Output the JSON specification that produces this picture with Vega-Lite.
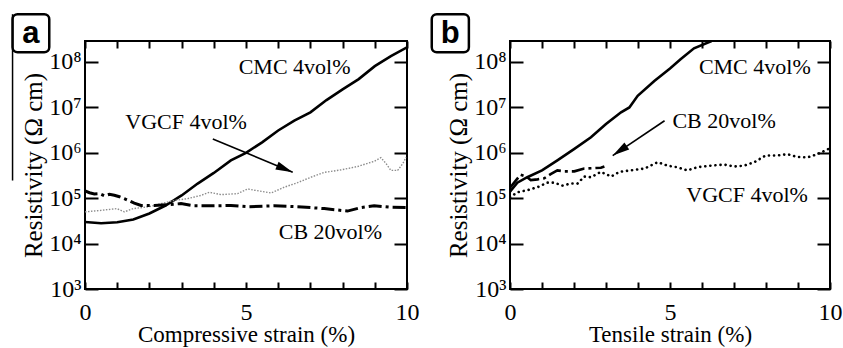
{
  "$schema": "https://vega.github.io/schema/vega-lite/v6.json",
  "padding": {"left": 10, "top": 11, "right": 0, "bottom": 0},
  "background": "white",
  "spacing": 9,
  "config": {
    "view": {"stroke": "black", "strokeWidth": 2},
    "axis": {"domain": false, "grid": false, "tickColor": "black", "tickWidth": 2, "labelFont": "Liberation Serif", "titleFont": "Liberation Serif", "labelColor": "black", "titleColor": "black", "labelFontSize": 24, "titleFontSize": 25, "titleFontWeight": "normal", "labelOverlap": false, "labelFlush": false},
    "axisX": {"titleFontSize": 23}
  },
  "datasets": {
    "a": [
      {"s": "CMC", "x": 0, "y": 30000}, {"s": "CMC", "x": 0.5, "y": 28000}, {"s": "CMC", "x": 1.0, "y": 29500}, {"s": "CMC", "x": 1.5, "y": 34000}, {"s": "CMC", "x": 2.0, "y": 46000}, {"s": "CMC", "x": 2.5, "y": 69000}, {"s": "CMC", "x": 3.0, "y": 115000}, {"s": "CMC", "x": 3.5, "y": 210000}, {"s": "CMC", "x": 4.0, "y": 360000}, {"s": "CMC", "x": 4.53, "y": 680000}, {"s": "CMC", "x": 5.0, "y": 1000000}, {"s": "CMC", "x": 5.5, "y": 1700000}, {"s": "CMC", "x": 6.0, "y": 3100000}, {"s": "CMC", "x": 6.5, "y": 5100000}, {"s": "CMC", "x": 7.0, "y": 7800000}, {"s": "CMC", "x": 7.5, "y": 14500000}, {"s": "CMC", "x": 8.0, "y": 25000000}, {"s": "CMC", "x": 8.5, "y": 42000000}, {"s": "CMC", "x": 9.0, "y": 81000000}, {"s": "CMC", "x": 9.5, "y": 135000000}, {"s": "CMC", "x": 10.0, "y": 210000000},
      {"s": "VGCF", "x": 0, "y": 50000}, {"s": "VGCF", "x": 0.5, "y": 54000}, {"s": "VGCF", "x": 0.99, "y": 59000}, {"s": "VGCF", "x": 1.22, "y": 50000}, {"s": "VGCF", "x": 1.5, "y": 59000}, {"s": "VGCF", "x": 2.0, "y": 65000}, {"s": "VGCF", "x": 2.36, "y": 76000}, {"s": "VGCF", "x": 2.77, "y": 89000}, {"s": "VGCF", "x": 3.19, "y": 98000}, {"s": "VGCF", "x": 3.6, "y": 115000}, {"s": "VGCF", "x": 3.86, "y": 135000}, {"s": "VGCF", "x": 4.22, "y": 120000}, {"s": "VGCF", "x": 4.74, "y": 126000}, {"s": "VGCF", "x": 5.05, "y": 160000}, {"s": "VGCF", "x": 5.26, "y": 150000}, {"s": "VGCF", "x": 5.78, "y": 130000}, {"s": "VGCF", "x": 6.19, "y": 175000}, {"s": "VGCF", "x": 6.6, "y": 220000}, {"s": "VGCF", "x": 7.02, "y": 290000}, {"s": "VGCF", "x": 7.43, "y": 370000}, {"s": "VGCF", "x": 7.95, "y": 420000}, {"s": "VGCF", "x": 8.47, "y": 500000}, {"s": "VGCF", "x": 8.98, "y": 650000}, {"s": "VGCF", "x": 9.19, "y": 780000}, {"s": "VGCF", "x": 9.35, "y": 580000}, {"s": "VGCF", "x": 9.5, "y": 410000}, {"s": "VGCF", "x": 9.71, "y": 410000}, {"s": "VGCF", "x": 9.87, "y": 580000}, {"s": "VGCF", "x": 9.97, "y": 790000},
      {"s": "CB", "x": 0, "y": 145000}, {"s": "CB", "x": 0.14, "y": 132000}, {"s": "CB", "x": 0.29, "y": 124000}, {"s": "CB", "x": 0.45, "y": 126000}, {"s": "CB", "x": 0.6, "y": 113000}, {"s": "CB", "x": 0.76, "y": 122000}, {"s": "CB", "x": 0.91, "y": 116000}, {"s": "CB", "x": 1.07, "y": 108000}, {"s": "CB", "x": 1.22, "y": 98000}, {"s": "CB", "x": 1.53, "y": 78000}, {"s": "CB", "x": 1.74, "y": 69000}, {"s": "CB", "x": 2.15, "y": 69000}, {"s": "CB", "x": 2.57, "y": 72000}, {"s": "CB", "x": 2.98, "y": 76000}, {"s": "CB", "x": 3.4, "y": 68000}, {"s": "CB", "x": 4.02, "y": 68000}, {"s": "CB", "x": 4.53, "y": 69000}, {"s": "CB", "x": 5.05, "y": 65000}, {"s": "CB", "x": 5.88, "y": 68000}, {"s": "CB", "x": 6.6, "y": 65000}, {"s": "CB", "x": 7.43, "y": 59000}, {"s": "CB", "x": 8.15, "y": 52000}, {"s": "CB", "x": 8.57, "y": 62000}, {"s": "CB", "x": 8.98, "y": 68000}, {"s": "CB", "x": 9.5, "y": 63000}, {"s": "CB", "x": 10.0, "y": 62000}
    ],
    "b": [
      {"s": "CMC", "x": 0, "y": 140000}, {"s": "CMC", "x": 0.23, "y": 220000}, {"s": "CMC", "x": 0.54, "y": 290000}, {"s": "CMC", "x": 1.0, "y": 410000}, {"s": "CMC", "x": 1.48, "y": 680000}, {"s": "CMC", "x": 2.0, "y": 1200000}, {"s": "CMC", "x": 2.53, "y": 2200000}, {"s": "CMC", "x": 3.0, "y": 4300000}, {"s": "CMC", "x": 3.47, "y": 7800000}, {"s": "CMC", "x": 3.73, "y": 10000000}, {"s": "CMC", "x": 3.99, "y": 18000000}, {"s": "CMC", "x": 4.51, "y": 38000000}, {"s": "CMC", "x": 5.0, "y": 72000000}, {"s": "CMC", "x": 5.33, "y": 115000000}, {"s": "CMC", "x": 5.75, "y": 200000000}, {"s": "CMC", "x": 6.3, "y": 290000000},
      {"s": "CB", "x": 0, "y": 170000}, {"s": "CB", "x": 0.13, "y": 220000}, {"s": "CB", "x": 0.33, "y": 330000}, {"s": "CB", "x": 0.54, "y": 290000}, {"s": "CB", "x": 0.65, "y": 250000}, {"s": "CB", "x": 0.86, "y": 260000}, {"s": "CB", "x": 1.07, "y": 275000}, {"s": "CB", "x": 1.27, "y": 340000}, {"s": "CB", "x": 1.48, "y": 410000}, {"s": "CB", "x": 1.69, "y": 390000}, {"s": "CB", "x": 2.01, "y": 390000}, {"s": "CB", "x": 2.32, "y": 450000}, {"s": "CB", "x": 2.63, "y": 460000}, {"s": "CB", "x": 2.84, "y": 470000}, {"s": "CB", "x": 2.95, "y": 500000},
      {"s": "VGCF", "x": 0, "y": 105000}, {"s": "VGCF", "x": 0.23, "y": 135000}, {"s": "VGCF", "x": 0.54, "y": 150000}, {"s": "VGCF", "x": 0.86, "y": 175000}, {"s": "VGCF", "x": 1.17, "y": 220000}, {"s": "VGCF", "x": 1.38, "y": 220000}, {"s": "VGCF", "x": 1.64, "y": 190000}, {"s": "VGCF", "x": 1.9, "y": 210000}, {"s": "VGCF", "x": 2.11, "y": 210000}, {"s": "VGCF", "x": 2.32, "y": 300000}, {"s": "VGCF", "x": 2.53, "y": 290000}, {"s": "VGCF", "x": 2.84, "y": 380000}, {"s": "VGCF", "x": 3.16, "y": 300000}, {"s": "VGCF", "x": 3.42, "y": 380000}, {"s": "VGCF", "x": 3.78, "y": 410000}, {"s": "VGCF", "x": 4.2, "y": 450000}, {"s": "VGCF", "x": 4.62, "y": 620000}, {"s": "VGCF", "x": 4.93, "y": 520000}, {"s": "VGCF", "x": 5.23, "y": 480000}, {"s": "VGCF", "x": 5.54, "y": 410000}, {"s": "VGCF", "x": 5.85, "y": 480000}, {"s": "VGCF", "x": 6.27, "y": 520000}, {"s": "VGCF", "x": 6.69, "y": 550000}, {"s": "VGCF", "x": 7.0, "y": 500000}, {"s": "VGCF", "x": 7.31, "y": 520000}, {"s": "VGCF", "x": 7.63, "y": 620000}, {"s": "VGCF", "x": 7.99, "y": 870000}, {"s": "VGCF", "x": 8.35, "y": 870000}, {"s": "VGCF", "x": 8.67, "y": 930000}, {"s": "VGCF", "x": 8.98, "y": 810000}, {"s": "VGCF", "x": 9.29, "y": 790000}, {"s": "VGCF", "x": 9.6, "y": 930000}, {"s": "VGCF", "x": 10.0, "y": 1260000}
    ],
    "ta": [
      {"x": 6.51, "y": 77600000, "t": "CMC 4vol%"},
      {"x": 3.14, "y": 4790000, "t": "VGCF 4vol%"},
      {"x": 7.62, "y": 17800, "t": "CB 20vol%"}
    ],
    "tb": [
      {"x": 7.65, "y": 77600000, "t": "CMC 4vol%"},
      {"x": 6.69, "y": 5130000, "t": "CB 20vol%"},
      {"x": 7.41, "y": 115000, "t": "VGCF 4vol%"}
    ],
    "arra": [{"x": 3.97, "y": 2020000, "x2": 6.45, "y2": 373000, "ang": 22.7}],
    "arrb": [{"x": 4.83, "y": 5080000, "x2": 3.21, "y2": 868000, "ang": 145.9}],
    "boxa": [{"x": -2.25, "x2": -1.11, "y": 1130000000, "y2": 163000000, "xc": -1.68, "yb": 261000000, "t": "a", "ly": 245000}],
    "boxb": [{"x": -2.445, "x2": -1.285, "y": 1130000000, "y2": 163000000, "xc": -1.865, "yb": 261000000, "t": "b"}]
  },
  "hconcat": [
    {
      "width": 322, "height": 248,
      "layer": [
        {"data": {"name": "a"}, "transform": [{"filter": "datum.s === 'CMC'"}],
         "mark": {"type": "line", "color": "black", "strokeWidth": 2.6, "clip": true},
         "encoding": {
           "x": {"field": "x", "type": "quantitative", "scale": {"domain": [0, 10], "nice": false}, "axis": {"orient": "bottom", "values": [0,1,2,3,4,5,6,7,8,9,10], "labelExpr": "datum.value % 5 === 0 ? datum.label : ''", "tickSize": -7, "labelPadding": 18, "title": "Compressive strain (%)", "titlePadding": -1}},
           "y": {"field": "y", "type": "quantitative", "scale": {"type": "log", "domain": [1000, 290000000], "nice": false}, "axis": {"orient": "left", "values": [1000, 10000, 100000, 1000000, 10000000, 100000000], "labelExpr": "'10' + substring('⁰¹²³⁴⁵⁶⁷⁸⁹', round(log(datum.value)/LN10), round(log(datum.value)/LN10)+1)", "tickSize": -13, "labelPadding": 17, "title": "Resistivity (Ω cm)", "titlePadding": 2}}
         }},
        {"data": {"name": "a"}, "transform": [{"filter": "datum.s === 'VGCF'"}],
         "mark": {"type": "line", "color": "#8c8c8c", "strokeWidth": 1.4, "strokeDash": [1.5, 1.5], "clip": true},
         "encoding": {
           "x": {"field": "x", "type": "quantitative", "scale": {"domain": [0, 10], "nice": false}, "axis": {"orient": "top", "values": [0,1,2,3,4,5,6,7,8,9,10], "tickSize": -7, "labels": false, "title": null}},
           "y": {"field": "y", "type": "quantitative", "scale": {"type": "log", "domain": [1000, 290000000], "nice": false}, "axis": {"orient": "right", "values": [1000, 10000, 100000, 1000000, 10000000, 100000000], "tickSize": -13, "labels": false, "title": null}}
         }},
        {"data": {"name": "a"}, "transform": [{"filter": "datum.s === 'CB'"}],
         "mark": {"type": "line", "color": "black", "strokeWidth": 3, "strokeDash": [13, 4, 3, 4], "clip": true},
         "encoding": {
           "x": {"field": "x", "type": "quantitative", "scale": {"domain": [0, 10], "nice": false}, "axis": null},
           "y": {"field": "y", "type": "quantitative", "scale": {"type": "log", "domain": [1000, 290000000], "nice": false}, "axis": null}
         }},
        {"data": {"name": "ta"},
         "mark": {"type": "text", "font": "Liberation Serif", "fontSize": 22, "align": "center", "baseline": "middle", "color": "black"},
         "encoding": {
           "x": {"field": "x", "type": "quantitative", "scale": {"domain": [0, 10], "nice": false}, "axis": null},
           "y": {"field": "y", "type": "quantitative", "scale": {"type": "log", "domain": [1000, 290000000], "nice": false}, "axis": null},
           "text": {"field": "t"}
         }},
        {"data": {"name": "arra"},
         "mark": {"type": "rule", "color": "black", "strokeWidth": 1.6},
         "encoding": {
           "x": {"field": "x", "type": "quantitative", "scale": {"domain": [0, 10], "nice": false}, "axis": null},
           "y": {"field": "y", "type": "quantitative", "scale": {"type": "log", "domain": [1000, 290000000], "nice": false}, "axis": null},
           "x2": {"field": "x2"}, "y2": {"field": "y2"}
         }},
        {"data": {"name": "arra"},
         "mark": {"type": "point", "shape": "M0,0L-2,-0.5L-2,0.5Z", "filled": true, "color": "black", "size": 290, "opacity": 1},
         "encoding": {
           "x": {"field": "x2", "type": "quantitative", "scale": {"domain": [0, 10], "nice": false}, "axis": null},
           "y": {"field": "y2", "type": "quantitative", "scale": {"type": "log", "domain": [1000, 290000000], "nice": false}, "axis": null},
           "angle": {"field": "ang", "type": "quantitative", "scale": null}
         }},
        {"data": {"name": "boxa"},
         "mark": {"type": "rect", "filled": false, "stroke": "black", "strokeWidth": 2.5, "cornerRadius": 5, "clip": false},
         "encoding": {
           "x": {"field": "x", "type": "quantitative", "scale": {"domain": [0, 10], "nice": false}, "axis": null},
           "x2": {"field": "x2"},
           "y": {"field": "y", "type": "quantitative", "scale": {"type": "log", "domain": [1000, 290000000], "nice": false}, "axis": null},
           "y2": {"field": "y2"}
         }},
        {"data": {"name": "boxa"},
         "mark": {"type": "rule", "color": "black", "strokeWidth": 1.5, "clip": false},
         "encoding": {
           "x": {"field": "x", "type": "quantitative", "scale": {"domain": [0, 10], "nice": false}, "axis": null},
           "y": {"field": "y", "type": "quantitative", "scale": {"type": "log", "domain": [1000, 290000000], "nice": false}, "axis": null},
           "y2": {"field": "ly"}
         }},
        {"data": {"name": "boxa"},
         "mark": {"type": "text", "font": "Liberation Sans", "fontWeight": "bold", "fontSize": 31, "align": "center", "baseline": "alphabetic", "color": "black", "clip": false},
         "encoding": {
           "x": {"field": "xc", "type": "quantitative", "scale": {"domain": [0, 10], "nice": false}, "axis": null},
           "y": {"field": "yb", "type": "quantitative", "scale": {"type": "log", "domain": [1000, 290000000], "nice": false}, "axis": null},
           "text": {"field": "t"}
         }}
      ],
      "resolve": {"axis": {"x": "independent", "y": "independent"}}
    },
    {
      "width": 320, "height": 248,
      "layer": [
        {"data": {"name": "b"}, "transform": [{"filter": "datum.s === 'CMC'"}],
         "mark": {"type": "line", "color": "black", "strokeWidth": 2.6, "clip": true},
         "encoding": {
           "x": {"field": "x", "type": "quantitative", "scale": {"domain": [0, 10], "nice": false}, "axis": {"orient": "bottom", "values": [0,1,2,3,4,5,6,7,8,9,10], "labelExpr": "datum.value % 5 === 0 ? datum.label : ''", "tickSize": -7, "labelPadding": 18, "title": "Tensile strain (%)", "titlePadding": -1}},
           "y": {"field": "y", "type": "quantitative", "scale": {"type": "log", "domain": [1000, 290000000], "nice": false}, "axis": {"orient": "left", "values": [1000, 10000, 100000, 1000000, 10000000, 100000000], "labelExpr": "'10' + substring('⁰¹²³⁴⁵⁶⁷⁸⁹', round(log(datum.value)/LN10), round(log(datum.value)/LN10)+1)", "tickSize": -13, "labelPadding": 17, "title": "Resistivity (Ω cm)", "titlePadding": 2}}
         }},
        {"data": {"name": "b"}, "transform": [{"filter": "datum.s === 'VGCF'"}],
         "mark": {"type": "line", "color": "black", "strokeWidth": 2.6, "strokeDash": [0.1, 5], "strokeCap": "round", "clip": true},
         "encoding": {
           "x": {"field": "x", "type": "quantitative", "scale": {"domain": [0, 10], "nice": false}, "axis": {"orient": "top", "values": [0,1,2,3,4,5,6,7,8,9,10], "tickSize": -7, "labels": false, "title": null}},
           "y": {"field": "y", "type": "quantitative", "scale": {"type": "log", "domain": [1000, 290000000], "nice": false}, "axis": {"orient": "right", "values": [1000, 10000, 100000, 1000000, 10000000, 100000000], "tickSize": -13, "labels": false, "title": null}}
         }},
        {"data": {"name": "b"}, "transform": [{"filter": "datum.s === 'CB'"}],
         "mark": {"type": "line", "color": "black", "strokeWidth": 2.6, "strokeDash": [13, 4, 3, 4], "clip": true},
         "encoding": {
           "x": {"field": "x", "type": "quantitative", "scale": {"domain": [0, 10], "nice": false}, "axis": null},
           "y": {"field": "y", "type": "quantitative", "scale": {"type": "log", "domain": [1000, 290000000], "nice": false}, "axis": null}
         }},
        {"data": {"name": "tb"},
         "mark": {"type": "text", "font": "Liberation Serif", "fontSize": 22, "align": "center", "baseline": "middle", "color": "black"},
         "encoding": {
           "x": {"field": "x", "type": "quantitative", "scale": {"domain": [0, 10], "nice": false}, "axis": null},
           "y": {"field": "y", "type": "quantitative", "scale": {"type": "log", "domain": [1000, 290000000], "nice": false}, "axis": null},
           "text": {"field": "t"}
         }},
        {"data": {"name": "arrb"},
         "mark": {"type": "rule", "color": "black", "strokeWidth": 1.6},
         "encoding": {
           "x": {"field": "x", "type": "quantitative", "scale": {"domain": [0, 10], "nice": false}, "axis": null},
           "y": {"field": "y", "type": "quantitative", "scale": {"type": "log", "domain": [1000, 290000000], "nice": false}, "axis": null},
           "x2": {"field": "x2"}, "y2": {"field": "y2"}
         }},
        {"data": {"name": "arrb"},
         "mark": {"type": "point", "shape": "M0,0L-2,-0.5L-2,0.5Z", "filled": true, "color": "black", "size": 290, "opacity": 1},
         "encoding": {
           "x": {"field": "x2", "type": "quantitative", "scale": {"domain": [0, 10], "nice": false}, "axis": null},
           "y": {"field": "y2", "type": "quantitative", "scale": {"type": "log", "domain": [1000, 290000000], "nice": false}, "axis": null},
           "angle": {"field": "ang", "type": "quantitative", "scale": null}
         }},
        {"data": {"name": "boxb"},
         "mark": {"type": "rect", "filled": false, "stroke": "black", "strokeWidth": 2.5, "cornerRadius": 5, "clip": false},
         "encoding": {
           "x": {"field": "x", "type": "quantitative", "scale": {"domain": [0, 10], "nice": false}, "axis": null},
           "x2": {"field": "x2"},
           "y": {"field": "y", "type": "quantitative", "scale": {"type": "log", "domain": [1000, 290000000], "nice": false}, "axis": null},
           "y2": {"field": "y2"}
         }},
        {"data": {"name": "boxb"},
         "mark": {"type": "text", "font": "Liberation Sans", "fontWeight": "bold", "fontSize": 31, "align": "center", "baseline": "alphabetic", "color": "black", "clip": false},
         "encoding": {
           "x": {"field": "xc", "type": "quantitative", "scale": {"domain": [0, 10], "nice": false}, "axis": null},
           "y": {"field": "yb", "type": "quantitative", "scale": {"type": "log", "domain": [1000, 290000000], "nice": false}, "axis": null},
           "text": {"field": "t"}
         }}
      ],
      "resolve": {"axis": {"x": "independent", "y": "independent"}}
    }
  ]
}
